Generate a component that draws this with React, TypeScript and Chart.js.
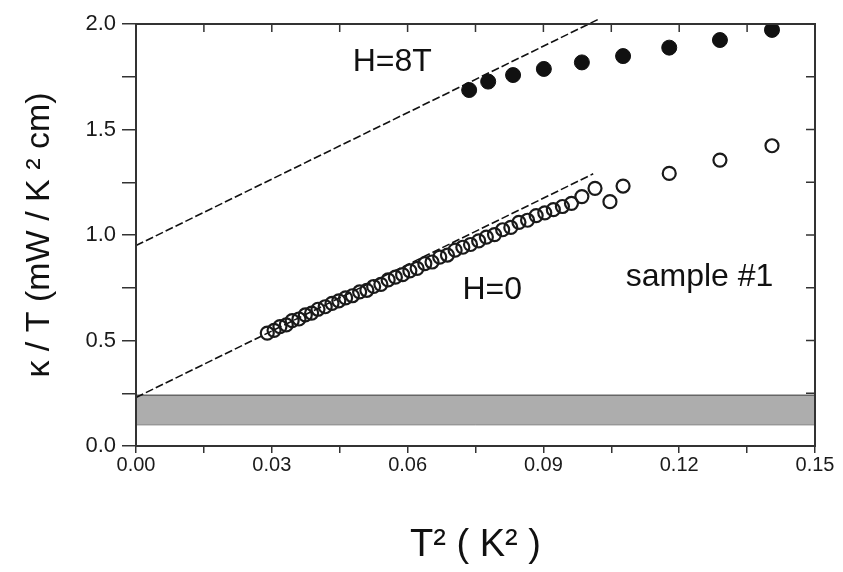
import { useEffect, useRef } from "react";
import { Chart, registerables } from "chart.js";

Chart.register(...registerables);

const FONT = "'Liberation Sans', Arial, Helvetica, sans-serif";

// kappa/T at H = 8 T (filled symbols)
const h8tX = [0.0736, 0.0778, 0.0833, 0.0901, 0.0985, 0.1076, 0.1178, 0.129, 0.1405];
const h8tY = [1.687, 1.727, 1.758, 1.787, 1.818, 1.848, 1.888, 1.924, 1.972];

// kappa/T at H = 0 (open symbols)
const h0X = [
  0.029, 0.0305, 0.0318, 0.0332, 0.0345, 0.036, 0.0374, 0.0388, 0.0402, 0.0418,
  0.0433, 0.0448, 0.0463, 0.0478, 0.0494, 0.051, 0.0525, 0.0541, 0.0557, 0.0573,
  0.0589, 0.0605, 0.0621, 0.0638, 0.0654, 0.0671, 0.0688, 0.0705, 0.0722, 0.0739,
  0.0757, 0.0774, 0.0792, 0.081, 0.0828, 0.0846, 0.0865, 0.0884, 0.0903, 0.0922,
  0.0942, 0.0962, 0.0985, 0.1014, 0.1047, 0.1076, 0.1178, 0.129, 0.1405,
];
const h0Y = [
  0.535, 0.548, 0.566, 0.574, 0.594, 0.602, 0.621, 0.63, 0.648, 0.66,
  0.676, 0.688, 0.702, 0.712, 0.73, 0.738, 0.756, 0.766, 0.787, 0.8,
  0.812, 0.83, 0.842, 0.864, 0.872, 0.895, 0.905, 0.928, 0.942, 0.955,
  0.972, 0.99, 1.002, 1.025, 1.036, 1.06, 1.07, 1.092, 1.105, 1.12,
  1.135, 1.15, 1.182, 1.221, 1.158, 1.232, 1.292, 1.355, 1.423,
];

// Linear T^2 fits (dashed)
const fit8tX = [0, 0.1025];
const fit8tY = [0.95, 2.026];
const fit0X = [0, 0.101];
const fit0Y = [0.23, 1.29];

// Shaded electronic-contribution band
const bandX = [0, 0.15];
const bandTop = 0.24;
const bandBottom = 0.1;

// Text labels inside the plot, in data coordinates
const noteText = ["H=8T", "H=0", "sample #1"];
const noteX = [0.0566, 0.0787, 0.1245];
const noteY = [1.82, 0.74, 0.8];

const pts = (xs: number[], ys: number[]) => xs.map((x, i) => ({ x, y: ys[i] }));

const frameAndNotes = {
  id: "frameAndNotes",
  afterDatasetsDraw(chart: any) {
    const { ctx, chartArea: a, scales } = chart;
    ctx.save();
    ctx.strokeStyle = "#333";
    ctx.lineWidth = 2;
    ctx.strokeRect(a.left, a.top, a.right - a.left, a.bottom - a.top);
    // inward ticks on top and right edges
    ctx.lineWidth = 1.5;
    ctx.beginPath();
    for (const t of scales.x.ticks) {
      const px = scales.x.getPixelForValue(t.value);
      ctx.moveTo(px, a.top);
      ctx.lineTo(px, a.top + 8);
    }
    for (const t of scales.y.ticks) {
      const py = scales.y.getPixelForValue(t.value);
      ctx.moveTo(a.right, py);
      ctx.lineTo(a.right - 9, py);
    }
    ctx.stroke();

    ctx.fillStyle = "#111";
    ctx.font = `32px ${FONT}`;
    ctx.textAlign = "center";
    ctx.textBaseline = "middle";
    noteText.forEach((txt, i) => {
      ctx.fillText(txt, scales.x.getPixelForValue(noteX[i]), scales.y.getPixelForValue(noteY[i]));
    });
    ctx.restore();
  },
};

export default function App() {
  const canvasRef = useRef<HTMLCanvasElement | null>(null);

  useEffect(() => {
    const canvas = canvasRef.current;
    if (!canvas) return;
    const dashed = {
      borderColor: "#111",
      borderWidth: 1.6,
      borderDash: [8, 3],
      pointRadius: 0,
      fill: false,
      showLine: true,
    };
    const chart = new Chart(canvas, {
      type: "scatter",
      data: {
        datasets: [
          {
            label: "H=8T",
            data: pts(h8tX, h8tY),
            pointRadius: 7.5,
            pointBackgroundColor: "#111",
            pointBorderColor: "#111",
            pointBorderWidth: 1,
            order: 0,
          },
          {
            label: "H=0",
            data: pts(h0X, h0Y),
            pointRadius: 6.5,
            pointBackgroundColor: "rgba(0,0,0,0)",
            pointBorderColor: "#1a1a1a",
            pointBorderWidth: 2.2,
            order: 1,
          },
          { label: "fit 8T", data: pts(fit8tX, fit8tY), ...dashed, clip: false, order: 2 },
          { label: "fit 0", data: pts(fit0X, fit0Y), ...dashed, order: 3 },
          {
            label: "band",
            data: pts(bandX, [bandTop, bandTop]),
            showLine: true,
            pointRadius: 0,
            borderColor: "#666",
            borderWidth: 1.5,
            backgroundColor: "#adadad",
            fill: { value: bandBottom },
            order: 5,
          },
          {
            label: "band edge",
            data: pts(bandX, [bandBottom, bandBottom]),
            showLine: true,
            pointRadius: 0,
            borderColor: "#8a8a8a",
            borderWidth: 1,
            order: 4,
          },
        ],
      },
      options: {
        responsive: false,
        animation: false,
        layout: { padding: { top: 24, right: 28, left: 0, bottom: 0 } },
        plugins: { legend: { display: false }, tooltip: { enabled: false } },
        scales: {
          x: {
            type: "linear",
            min: 0,
            max: 0.15,
            afterFit: (s: any) => {
              s.height = 126;
            },
            ticks: {
              stepSize: 0.015,
              autoSkip: false,
              maxRotation: 0,
              padding: 0,
              color: "#1a1a1a",
              font: { family: FONT, size: 20 },
              callback: (v: any) => {
                const n = Number(v);
                const k = n / 0.03;
                return Math.abs(k - Math.round(k)) < 1e-6 ? n.toFixed(2) : "";
              },
            },
            grid: { drawOnChartArea: false, drawTicks: true, tickLength: 7, color: "#333", lineWidth: 1.5 },
            border: { display: true, color: "#333", width: 2 },
            title: {
              display: true,
              text: "T² ( K² )",
              color: "#111",
              font: { family: FONT, size: 38 },
              padding: { top: 0, bottom: 4 },
            },
          },
          y: {
            type: "linear",
            min: 0,
            max: 2,
            afterFit: (s: any) => {
              s.width = 136;
            },
            ticks: {
              stepSize: 0.25,
              autoSkip: false,
              padding: 6,
              color: "#1a1a1a",
              font: { family: FONT, size: 22 },
              callback: (v: any) => {
                const n = Number(v);
                const k = n / 0.5;
                return Math.abs(k - Math.round(k)) < 1e-6 ? n.toFixed(1) : "";
              },
            },
            grid: { drawOnChartArea: false, drawTicks: true, tickLength: 14, color: "#333", lineWidth: 1.5 },
            border: { display: true, color: "#333", width: 2 },
            title: {
              display: true,
              text: "κ / T (mW / K ² cm)",
              color: "#111",
              font: { family: FONT, size: 34 },
              padding: { top: 19, bottom: 0 },
            },
          },
        },
      },
      plugins: [frameAndNotes],
    });
    return () => chart.destroy();
  }, []);

  return (
    <div style={{ position: "fixed", left: 0, top: 0, width: 843, height: 572, background: "#fff" }}>
      <canvas ref={canvasRef} width={843} height={572} style={{ display: "block" }} />
    </div>
  );
}
